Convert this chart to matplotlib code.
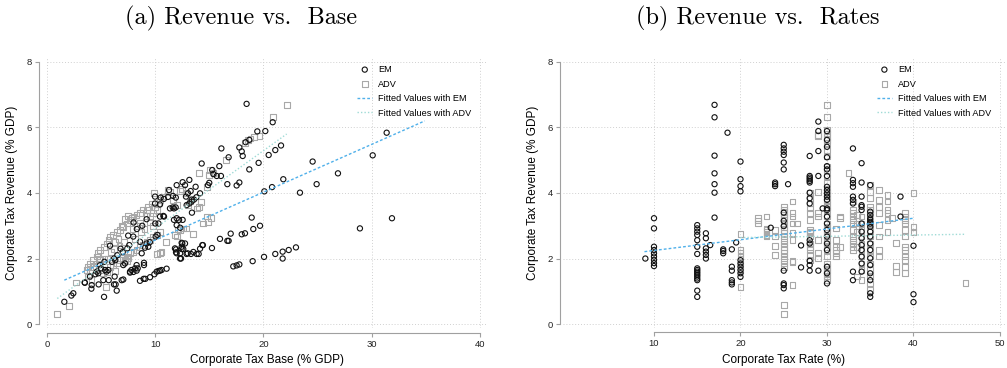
import numpy as np
import matplotlib
matplotlib.use('Agg')
import matplotlib.pyplot as plt

plt.rcParams['font.family'] = ['Liberation Sans', 'DejaVu Sans']

# ---- panel (a): revenue vs. base ----
base_em = [
    (18.44, 6.72), (31.38, 5.84), (30.09, 5.15), (26.88, 4.60), (24.54, 4.96), (24.91, 4.27),
    (23.37, 4.01), (28.91, 2.92), (31.87, 3.23), (21.83, 4.42), (21.62, 5.45), (21.09, 5.31),
    (20.48, 5.16), (20.85, 6.16), (20.17, 5.89), (19.43, 5.88), (19.55, 4.92), (18.69, 4.72),
    (20.08, 4.05), (20.79, 4.18), (17.77, 5.39), (18.08, 5.13), (17.99, 5.27), (18.35, 5.55),
    (18.69, 5.62), (16.11, 5.36), (16.78, 5.09), (15.92, 4.82), (16.07, 4.52), (16.66, 4.27),
    (17.52, 4.23), (17.77, 4.32), (14.29, 4.90), (15.27, 4.70), (15.37, 4.58), (15.68, 4.52),
    (14.87, 4.24), (14.99, 4.31), (14.14, 3.99), (13.73, 4.19), (13.36, 3.80), (13.15, 4.40),
    (12.53, 4.33), (12.75, 4.24), (11.98, 4.24), (13.27, 4.06), (13.03, 3.99), (12.84, 3.89),
    (11.64, 3.91), (11.18, 3.88), (10.44, 3.65), (9.98, 3.89), (10.81, 3.28), (11.36, 3.53),
    (11.61, 3.56), (11.89, 3.56), (13.39, 3.40), (11.98, 3.02), (12.53, 3.18),
    (19.68, 3.00), (18.91, 3.25), (19.06, 2.90), (18.29, 2.77), (17.99, 2.74), (16.97, 2.76),
    (16.66, 2.54), (16.78, 2.54), (15.98, 2.60), (15.24, 2.32), (14.35, 2.41), (14.14, 2.30),
    (13.83, 2.14), (14.01, 2.14), (13.52, 2.20), (12.90, 2.14), (12.44, 2.48), (12.59, 2.29),
    (12.44, 2.29), (12.29, 2.00), (12.38, 2.00), (11.92, 2.28), (11.92, 2.19),
    (23.00, 2.34), (22.33, 2.26), (21.77, 2.21), (21.77, 2.00), (21.09, 2.14), (20.05, 2.05),
    (19.00, 1.92), (17.77, 1.82), (17.52, 1.79), (17.21, 1.76), (11.05, 1.69), (10.59, 1.65),
    (10.44, 1.63), (10.31, 1.62), (10.13, 1.60), (9.92, 1.52), (9.52, 1.43), (9.08, 1.38),
    (8.93, 1.38), (8.59, 1.32), (8.28, 1.63), (8.38, 1.70), (7.98, 1.59), (7.67, 1.57),
    (8.96, 1.80), (8.96, 1.87), (7.05, 1.36), (6.90, 1.34), (6.44, 1.02), (6.19, 1.21),
    (6.34, 1.21), (5.27, 0.83), (4.77, 1.21), (4.10, 1.08), (3.48, 1.27), (2.43, 0.94),
    (2.25, 0.87), (1.60, 0.68),
    (5.82, 2.39), (7.60, 2.41), (7.42, 2.31), (8.75, 2.16), (9.05, 2.33), (9.36, 2.36),
    (9.98, 3.68), (10.50, 3.86), (10.80, 3.82), (11.27, 4.09), (10.30, 3.07), (10.00, 3.07),
    (10.44, 3.28), (10.75, 3.30), (11.73, 3.53), (11.90, 3.86), (10.04, 2.67), (10.20, 2.72),
    (9.20, 2.46), (9.50, 2.50), (7.97, 2.67), (8.60, 2.51), (6.19, 2.00), (6.31, 1.95),
    (5.50, 1.60), (5.67, 1.65), (5.36, 1.65), (4.90, 1.80), (4.74, 1.55), (4.47, 1.52),
    (3.97, 1.45), (4.13, 1.19), (3.50, 1.26), (5.20, 1.34), (5.70, 1.34), (6.25, 1.45),
    (7.67, 1.60), (7.80, 1.65), (8.13, 1.70), (8.28, 1.80), (7.05, 1.80), (7.20, 1.85),
    (12.90, 3.63), (13.15, 3.68), (13.36, 3.74), (13.58, 3.80), (13.80, 3.87), (11.73, 3.18),
    (11.98, 3.23), (12.20, 3.18), (12.30, 2.94), (12.44, 2.36), (12.50, 2.46), (12.75, 2.46),
    (11.82, 2.31), (11.98, 2.16), (12.30, 2.16), (13.00, 2.16), (13.30, 2.14), (14.40, 2.41),
    (8.00, 3.10), (8.30, 2.90), (7.50, 2.70), (8.80, 3.00), (9.20, 3.20), (6.80, 2.30),
    (6.50, 2.10), (7.00, 2.20), (5.30, 1.90), (5.00, 1.70), (4.60, 1.60), (6.00, 1.90),
]
base_adv = [
    (22.14, 6.69), (20.85, 6.31), (19.62, 5.74), (19.15, 5.70), (18.81, 5.66), (18.54, 5.62),
    (18.29, 5.52), (16.54, 5.00), (14.04, 4.62), (14.99, 4.55), (15.37, 4.60), (15.06, 4.70),
    (14.81, 4.19), (14.23, 3.73), (14.01, 3.58), (13.83, 3.53), (15.18, 3.23), (14.75, 3.28),
    (14.87, 3.12), (14.44, 3.07), (13.46, 2.75), (12.90, 2.92), (12.59, 2.92), (12.29, 2.87),
    (12.13, 2.89), (11.82, 2.72), (11.98, 2.67), (10.99, 2.51), (10.59, 2.21), (10.44, 2.16),
    (10.13, 2.14), (9.88, 4.01), (10.75, 3.89), (11.21, 4.09), (11.36, 4.04), (10.44, 3.79),
    (10.28, 3.68), (9.98, 3.58), (10.13, 3.48), (11.67, 3.79), (11.98, 3.63), (12.29, 4.07),
    (12.44, 4.12), (12.90, 3.99), (13.21, 3.74), (13.06, 3.63), (9.67, 3.68), (9.36, 3.58),
    (9.21, 3.48),
    (8.59, 3.38), (8.28, 3.33), (7.98, 3.28), (7.82, 3.23), (7.67, 3.18), (7.36, 3.07),
    (7.05, 2.97), (6.74, 2.87), (6.44, 2.82), (6.13, 2.72), (5.82, 2.67), (5.67, 2.56),
    (5.51, 2.46), (5.27, 2.36), (4.90, 2.26), (4.74, 2.16), (4.59, 2.06), (4.28, 1.95),
    (3.97, 1.85), (3.82, 1.75), (3.66, 1.65),
    (10.44, 2.82), (10.13, 2.72), (9.82, 2.67), (9.52, 2.56), (9.21, 2.51), (8.90, 2.41),
    (8.59, 2.36), (8.28, 2.26), (7.98, 2.21), (7.67, 2.16), (7.36, 2.06), (7.05, 2.01),
    (6.74, 1.95), (6.44, 1.85), (6.13, 1.80), (5.82, 1.75), (5.51, 1.60), (5.20, 1.55),
    (4.90, 1.65),
    (2.65, 1.27), (2.03, 0.56), (0.95, 0.30), (5.45, 1.14), (6.28, 1.63), (7.36, 1.92),
    (7.21, 1.95), (7.51, 2.01), (4.90, 1.95), (4.59, 1.85), (4.28, 1.75), (3.97, 1.65),
    (3.82, 1.45), (4.10, 1.35),
    (8.90, 3.50), (9.20, 3.30), (8.60, 3.10), (8.30, 3.00), (9.50, 3.30), (9.80, 3.40),
    (6.90, 3.00), (7.20, 3.20), (7.50, 3.30), (6.60, 2.60), (6.30, 2.50), (7.90, 2.90),
    (8.10, 2.60), (8.70, 2.80), (9.00, 2.90), (9.50, 3.10), (9.80, 3.00), (5.90, 2.20),
    (6.20, 2.30), (5.60, 2.00), (5.30, 2.00), (6.70, 2.40), (7.10, 2.50),
]
# fitted lines (end points)
base_fit_em_x = [1.60, 34.9]
base_fit_em_y = [1.34, 6.20]
base_fit_adv_x = [0.95, 22.14]
base_fit_adv_y = [0.78, 5.80]

# ---- panel (b): revenue vs. statutory rate ----
rate_em_x = [9, 10, 15, 16, 16.5, 17, 18, 18.5, 19, 19.5, 20, 23.5, 24, 25, 25.5, 27, 28,
             29, 29.5, 30, 33, 34, 35, 38.5, 40]
rate_em_y = [
    [2.00],
    [3.23, 2.92, 2.36, 2.26, 2.16, 2.06, 1.96, 1.86, 1.77],
    [3.02, 2.92, 2.82, 2.72, 2.56, 2.36, 2.14, 1.70, 1.65, 1.60, 1.55, 1.50, 1.45, 1.39, 1.34, 1.02, 0.83],
    [2.77, 2.62, 2.31, 2.21, 2.11, 2.00],
    [2.41],
    [6.69, 6.31, 5.14, 4.60, 4.27, 4.01, 3.25],
    [2.28, 2.23, 2.16],
    [5.84],
    [1.75, 1.63, 1.34, 1.27, 1.21, 2.28],
    [2.49],
    [4.96, 4.42, 4.21, 4.05, 1.95, 1.85, 1.75, 1.65, 1.55, 1.44],
    [2.94],
    [4.32, 4.27, 4.21],
    [5.47, 5.36, 5.26, 5.16, 4.93, 4.72, 3.40, 3.15, 2.99, 1.63, 1.24, 1.19, 1.09],
    [4.27],
    [2.40, 1.73],
    [5.13, 4.52, 4.47, 4.42, 4.37, 4.32, 4.01, 3.84, 3.68, 2.56, 2.46, 1.93, 1.80, 1.63],
    [6.18, 5.89, 5.28, 4.52, 1.63],
    [3.53],
    [5.89, 5.62, 5.41, 5.09, 4.82, 4.72, 4.52, 4.19, 4.09, 3.99, 3.89, 3.79, 3.53, 3.48, 3.28,
     3.07, 2.87, 2.67, 2.46, 2.26, 1.75, 1.55, 1.24],
    [5.36, 4.40, 4.30, 4.19, 3.89, 3.79, 3.68, 1.60, 1.34],
    [4.91, 4.32, 3.89, 3.63, 3.58, 3.48, 3.07, 2.82, 2.62, 2.41, 2.26, 2.06, 1.85, 1.60],
    [4.24, 3.43, 3.33, 3.23, 3.18, 3.12, 3.07, 2.97, 2.82, 2.67, 2.46, 2.26, 2.01, 1.80, 1.55,
     1.34, 0.94, 0.83],
    [3.89, 3.28],
    [2.39, 0.91, 0.67],
]
rate_adv_x = [20, 22, 23, 24, 25, 26, 26.5, 28, 29, 30, 31, 31.5, 32.5, 33, 33.5, 34, 35, 36,
              37, 37.5, 38, 39, 40, 46]
rate_adv_y = [
    [2.74, 2.26, 2.16, 2.06, 1.85, 1.65, 1.14],
    [3.23, 3.16, 3.07],
    [3.28, 2.92, 2.87, 2.82, 2.72, 2.67],
    [2.67, 2.11, 2.87, 2.38],
    [3.58, 3.50, 3.42, 3.34, 3.26, 3.18, 3.07, 2.97, 2.87, 2.77, 2.67, 2.56, 2.46, 2.36, 2.26,
     2.16, 2.06, 1.95, 1.85, 1.75, 0.58, 0.31],
    [3.74, 3.38, 3.28, 3.07, 2.79, 2.56, 1.93, 1.90, 1.19],
    [3.07],
    [3.99, 3.84, 3.68, 3.53, 3.38, 3.18, 2.87, 2.82, 2.77, 2.67, 2.46, 2.36, 2.26, 2.11, 1.95],
    [5.77, 5.74, 4.04, 3.38, 3.28, 2.56, 2.16, 2.01],
    [6.69, 6.31, 5.92, 5.82, 5.72, 5.62, 5.52, 5.31, 5.11, 4.80, 4.70, 4.50, 4.30, 4.09, 3.99,
     3.89, 3.79, 3.68, 3.58, 3.48, 3.28, 3.07, 2.97, 2.87, 2.77, 2.67, 2.56, 2.46, 2.36, 2.26,
     2.06, 1.85, 1.75, 1.65, 1.55, 1.45, 1.34],
    [2.92, 2.56, 2.36, 2.26, 2.16, 2.06],
    [3.28, 3.23, 2.36],
    [4.60],
    [3.74, 3.48, 3.38, 3.28, 3.18, 3.07, 2.87, 2.67, 2.56, 2.46, 2.36, 2.26],
    [3.33, 3.07, 2.82, 2.36, 1.45],
    [3.28, 3.07, 2.87, 2.67, 2.46, 2.26, 2.06, 1.85, 1.65, 1.34],
    [4.24, 4.04, 3.84, 3.58, 3.48, 3.38, 3.07, 2.87, 2.67, 2.46, 2.26, 2.06, 1.85, 1.65, 1.45,
     1.24, 1.04],
    [4.09, 3.79, 3.58, 3.38, 3.02, 2.67, 2.26, 2.06],
    [3.94, 3.74, 3.48, 3.38, 3.18, 2.82],
    [3.23],
    [2.48, 1.77, 1.60],
    [3.38, 3.28, 3.18, 3.07, 2.87, 2.67, 2.36, 2.26, 2.06, 1.95, 1.75, 1.55],
    [4.01, 2.97, 2.82],
    [1.26],
]
rate_fit_em_x = [8.9, 40.0]
rate_fit_em_y = [2.21, 3.23]
rate_fit_adv_x = [20.0, 46.0]
rate_fit_adv_y = [2.64, 2.74]

EM_COL = '#111111'
ADV_COL = '#a8a8a8'
FIT_EM_COL = '#4fb0ea'
FIT_ADV_COL = '#9fdbd6'
W, H = 1007, 368


def expand(xs, ys):
    x = np.concatenate([np.full(len(v), r, dtype=float) for r, v in zip(xs, ys)])
    y = np.concatenate([np.array(v, dtype=float) for v in ys])
    return x, y


def draw_panel(ax, em, adv, fit_em, fit_adv, xlabel, xticks, left_out, bottom_out, leg_anchor):
    ax.scatter(em[0], em[1], s=14, facecolors='none', edgecolors=EM_COL, linewidths=0.8,
               marker='o', label='EM', zorder=3)
    ax.scatter(adv[0], adv[1], s=17, facecolors='none', edgecolors=ADV_COL, linewidths=0.8,
               marker='s', label='ADV', zorder=2)
    ax.plot(fit_em[0], fit_em[1], color=FIT_EM_COL, lw=1.0, ls=(0, (2, 1.5)),
            label='Fitted Values with EM', zorder=4)
    ax.plot(fit_adv[0], fit_adv[1], color=FIT_ADV_COL, lw=1.0, ls=(0, (1, 1.5)),
            label='Fitted Values with ADV', zorder=4)

    ax.set_xticks(xticks)
    ax.set_yticks([0, 2, 4, 6, 8])
    ax.grid(True, ls=(0, (1, 2)), color='#d0d0d0', lw=0.7)
    ax.set_axisbelow(True)
    for s in ['top', 'right']:
        ax.spines[s].set_visible(False)
    ax.spines['left'].set_position(('outward', left_out * 0.72))
    ax.spines['bottom'].set_position(('outward', bottom_out * 0.72))
    ax.spines['left'].set_bounds(0, 8)
    ax.spines['bottom'].set_bounds(xticks[0], xticks[-1])
    for s in ['left', 'bottom']:
        ax.spines[s].set_color('#a0a0a0')
        ax.spines[s].set_linewidth(0.8)
    ax.tick_params(length=3, width=0.8, color='#a0a0a0', labelsize=6.8, labelcolor='#222222',
                   pad=2)
    ax.set_xlabel(xlabel, fontsize=8.5, labelpad=4)
    ax.set_ylabel('Corporate Tax Revenue (% GDP)', fontsize=8.5, labelpad=6)
    ax.legend(loc='upper left', bbox_to_anchor=leg_anchor, frameon=False, fontsize=6.6,
              handlelength=1.65, handletextpad=0.65, labelspacing=0.6, borderaxespad=0,
              borderpad=0)


fig = plt.figure(figsize=(W / 100, H / 100), dpi=100)

# panel (a)
ax1 = fig.add_axes([47 / W, 40 / H, 440 / W, 270 / H])
ax1.set_xlim(0, 40.65)
ax1.set_ylim(-0.12, 8.12)
bx = [p[0] for p in base_em], [p[1] for p in base_em]
ba = [p[0] for p in base_adv], [p[1] for p in base_adv]
draw_panel(ax1, bx, ba, (base_fit_em_x, base_fit_em_y), (base_fit_adv_x, base_fit_adv_y),
           'Corporate Tax Base (% GDP)', [0, 10, 20, 30, 40], 8, 5, (0.705, 0.974))

# panel (b)
ax2 = fig.add_axes([563 / W, 40 / H, 442 / W, 270 / H])
ax2.set_xlim(-0.52, 50.58)
ax2.set_ylim(-0.12, 8.12)
draw_panel(ax2, expand(rate_em_x, rate_em_y), expand(rate_adv_x, rate_adv_y),
           (rate_fit_em_x, rate_fit_em_y), (rate_fit_adv_x, rate_fit_adv_y),
           'Corporate Tax Rate (%)', [10, 20, 30, 40, 50], 3, 4, (0.71, 0.974))

fig.text(241 / W, 1 - 18 / H, '(a) Revenue vs.  Base', family='cmr10', fontsize=17.5,
         ha='center', va='center')
fig.text(758 / W, 1 - 18 / H, '(b) Revenue vs.  Rates', family='cmr10', fontsize=17.5,
         ha='center', va='center')

fig.savefig('out.png', dpi=100)
